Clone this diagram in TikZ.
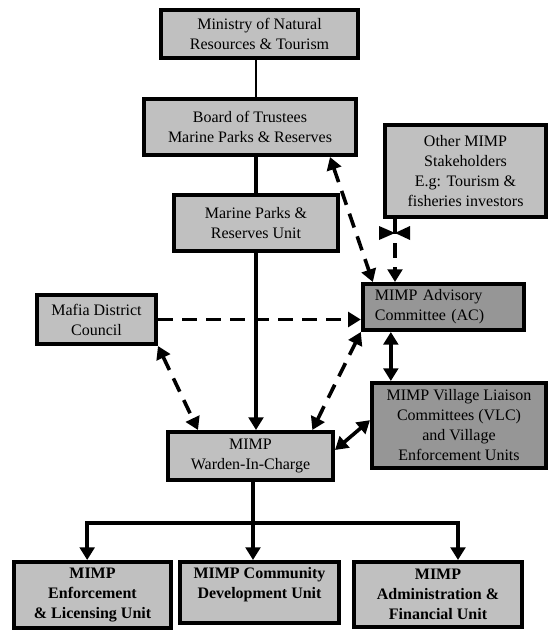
\documentclass[tikz,border=0pt]{standalone}
\usepackage{fontspec}
\setmainfont{Liberation Serif}
\usetikzlibrary{positioning,calc,arrows.meta}

\definecolor{boxlight}{RGB}{192,192,192}
\definecolor{boxdark}{RGB}{150,150,150}

\begin{document}
\begin{tikzpicture}[x=0.75pt,y=-0.75pt,
  font=\fontsize{12}{15}\selectfont,
  unit/.style={draw, line width=3pt, fill=boxlight, align=center, inner sep=2pt},
  darkunit/.style={unit, fill=boxdark},
  conn/.style={line width=2.7pt},
  thinconn/.style={line width=1.3pt},
  dashconn/.style={line width=2.7pt, dash pattern=on 11pt off 7pt},
  >={Triangle[length=9.5pt,width=11pt]}]

  \useasboundingbox (0,0) rectangle (549,631);

  % boxes
  \node (min) [unit, minimum width=197pt*0.75, minimum height=48pt*0.75] at (259.5,34) {Ministry of Natural\\Resources \& Tourism};
  \node (board) [unit, minimum width=212pt*0.75, minimum height=56pt*0.75] at (250,127) {Board of Trustees\\Marine Parks \& Reserves};
  \node (mpru) [unit, minimum width=164pt*0.75, minimum height=56pt*0.75] at (256,223) {Marine Parks \&\\Reserves Unit};
  \node (stake) [unit, minimum width=161pt*0.75, minimum height=92pt*0.75] at (465.5,171) {Other MIMP\\Stakeholders\\E.g: Tourism \&\\fisheries investors};
  \node (ac) [darkunit, text width=103pt, inner xsep=9pt, align=left, minimum height=46pt*0.75] at (443.5,307) {MIMP Advisory\\Committee (AC)};
  \node (vlc) [darkunit, minimum width=174pt*0.75, minimum height=85pt*0.75] at (459,425.5) {MIMP Village Liaison\\Committees (VLC)\\and Village\\Enforcement Units};
  \node (mafia) [unit, minimum width=119pt*0.75, minimum height=49pt*0.75] at (96.5,319.5) {Mafia District\\Council};
  \node (warden) [unit, minimum width=165pt*0.75, minimum height=48pt*0.75] at (250.5,456) {MIMP\\Warden-In-Charge};
  \node (enf) [unit, font=\fontsize{12}{15}\selectfont\bfseries, minimum width=157pt*0.75, minimum height=66pt*0.75] at (92.5,595) {MIMP\\Enforcement\\\& Licensing Unit};
  \node (comm) [unit, font=\fontsize{12}{15}\selectfont\bfseries, minimum width=159pt*0.75, minimum height=61pt*0.75] at (259.5,592.5) {MIMP Community\\Development Unit\\~};
  \node (admin) [unit, font=\fontsize{12}{15}\selectfont\bfseries, minimum width=168pt*0.75, minimum height=65pt*0.75] at (438,594.5) {MIMP\\Administration \&\\Financial Unit};

  \coordinate (spine) at (256,0);
  \coordinate (fork) at (253,523);

  % line of command
  \draw[thinconn] (min.south -| spine) -- (board.north -| spine);
  \draw[conn] (board.south -| spine) -- (mpru.north -| spine);
  \draw[conn,->] (mpru.south -| spine) -- (warden.north -| spine);

  % advisory links
  \draw[dashconn,<->] ([xshift=-21pt]board.south east) -- ([xshift=9pt]ac.north west);
  \draw[dashconn,->] ([xshift=9pt]stake.south west) -- ([xshift=9pt]stake.south west |- ac.north);
  \fill (395,233) -- ++(-16,-7) -- ++(0,14) -- cycle;
  \fill (395,233) -- ++(15,-7) -- ++(0,14) -- cycle;
  \draw[dashconn,->] (mafia.east) -- (ac.west |- mafia.east);
  \draw[dashconn,<->] (mafia.south east) -- ([xshift=24pt]warden.north west);
  \draw[dashconn,<->] ([xshift=-17pt]warden.north east) -- (ac.south west);
  \draw[conn,<->] ([xshift=22.5pt]ac.south west) -- ([xshift=22.5pt]ac.south west |- vlc.north);
  \draw[conn,<->] ([yshift=4.5pt]warden.east) -- ([yshift=4pt]vlc.west);

  % units under the warden
  \draw[conn] (warden.south -| fork) -- (fork);
  \draw[conn,->] (fork) -- (comm.north -| fork);
  \draw[conn,->] (fork) -| ([xshift=-4pt]enf.north);
  \draw[conn,->] (fork) -| ([xshift=15pt]admin.north);
\end{tikzpicture}
\end{document}
